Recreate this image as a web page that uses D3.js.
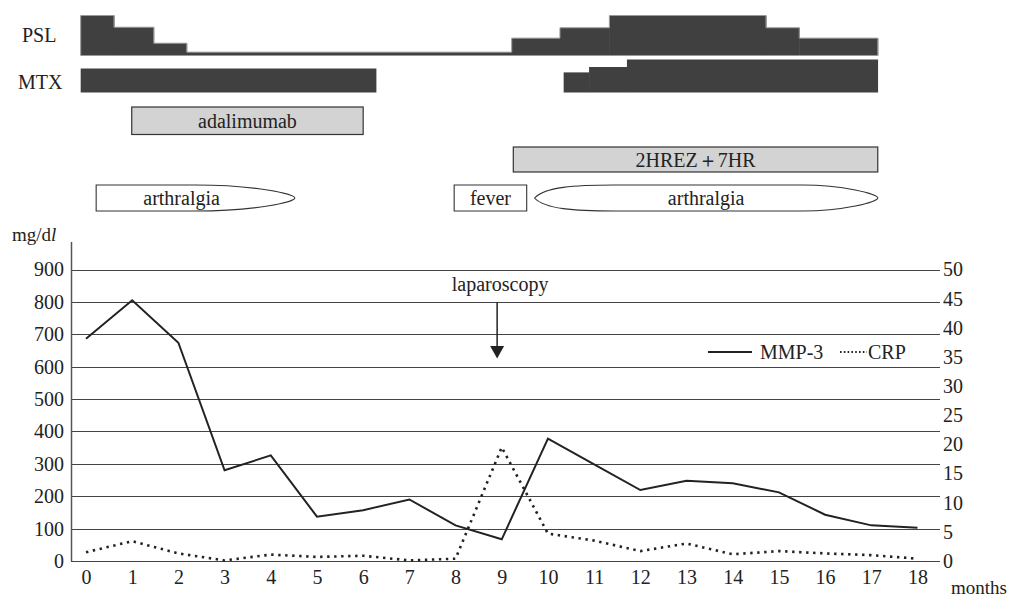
<!DOCTYPE html>
<html><head><meta charset="utf-8">
<script src="https://cdn.jsdelivr.net/npm/d3@7"></script>
<style>
body{margin:0;background:#fff;}
</style></head>
<body><svg id="c" width="1017" height="598"></svg>
<script>
// ---- data ----
const months = d3.range(0, 19);
const mmp3 = [686, 805, 674, 280, 326, 137, 157, 190, 110, 67, 378, 298, 219, 248, 240, 212, 143, 110, 103];
const crp = [1.5, 3.4, 1.3, 0.1, 1.1, 0.7, 0.9, 0.1, 0.4, 19.5, 4.7, 3.5, 1.7, 3.0, 1.15, 1.7, 1.3, 1.0, 0.4];
const leftTicks = [0, 100, 200, 300, 400, 500, 600, 700, 800, 900];
const rightTicks = [0, 5, 10, 15, 20, 25, 30, 35, 40, 45, 50];
// PSL steps: [start month, end month, dose]
const pslSteps = [[-0.115, 0.606, 30], [0.606, 1.466, 21.2], [1.466, 2.18, 9.2], [2.18, 9.216, 2.5],
  [9.216, 10.26, 13], [10.26, 11.33, 20.8], [11.33, 14.72, 30], [14.72, 15.44, 20.8], [15.44, 17.14, 13]];
// MTX steps: [start, end, dose]
const mtxSteps = [[-0.115, 6.28, 8], [10.34, 10.89, 6.7], [10.89, 11.71, 8.5], [11.71, 17.14, 11]];
const drugs = [{name: "adalimumab", s: 0.99, e: 6.0}, {name: "2HREZ\uFF0B7HR", s: 9.25, e: 17.14}];
const symptoms = [{name: "arthralgia", s: 0.22, e: 4.52, shape: "bulletR"},
  {name: "fever", s: 7.97, e: 9.54, shape: "rect"},
  {name: "arthralgia", s: 9.71, e: 17.14, shape: "ellipse"}];
const laparoscopyMonth = 8.9;

// ---- layout ----
const svg = d3.select("#c");
const x = d3.scaleLinear().domain([0, 18]).range([86, 917.5]);
const yL = d3.scaleLinear().domain([0, 900]).range([561, 269.5]);
const yR = d3.scaleLinear().domain([0, 50]).range([561, 269.5]);
const gridX0 = 71, gridX1 = 940;
const ink = "#222";

// gridlines
svg.append("g").selectAll("line").data(leftTicks).join("line")
  .attr("x1", gridX0).attr("x2", gridX1)
  .attr("y1", d => Math.round(yL(d)) + 0.5).attr("y2", d => Math.round(yL(d)) + 0.5)
  .attr("stroke", "#444").attr("stroke-width", 1.2);
// left axis line
svg.append("line").attr("x1", gridX0 + 0.5).attr("x2", gridX0 + 0.5)
  .attr("y1", yL(985)).attr("y2", yL(0)).attr("stroke", "#555").attr("stroke-width", 1.5);

// left axis labels
const axL = d3.axisLeft(yL).tickValues(leftTicks).tickSize(0).tickPadding(7);
const gL = svg.append("g").attr("transform", `translate(${gridX0},0)`).call(axL);
gL.select(".domain").remove();
// right axis labels
const axR = d3.axisRight(yR).tickValues(rightTicks).tickSize(0).tickPadding(3);
const gR = svg.append("g").attr("transform", `translate(${gridX1},0)`).call(axR);
gR.select(".domain").remove();
// bottom axis labels
const axB = d3.axisBottom(x).tickValues(months).tickSize(0).tickPadding(9).tickFormat(d3.format("d"));
const gB = svg.append("g").attr("transform", `translate(0,${yL(0)})`).call(axB);
gB.select(".domain").remove();
[gL, gR, gB].forEach(g => g.selectAll("text").style("font-size", "20px"));

// unit labels
const unit = svg.append("text").attr("x", 12).attr("y", 241).style("font-size", "19px");
unit.append("tspan").text("mg/d");
unit.append("tspan").style("font-style", "italic").text("l");
svg.append("text").attr("x", 951).attr("y", 594).style("font-size", "19px").text("months");

// lines
const lineL = d3.line().x((d, i) => x(months[i])).y(d => yL(d));
const lineR = d3.line().x((d, i) => x(months[i])).y(d => yR(d));
svg.append("path").attr("d", lineL(mmp3)).attr("fill", "none").attr("stroke", ink)
  .attr("stroke-width", 2).attr("stroke-linejoin", "miter");
svg.append("path").attr("d", lineR(crp)).attr("fill", "none").attr("stroke", ink)
  .attr("stroke-width", 2.6).attr("stroke-dasharray", "2.4,4.6").attr("stroke-linecap", "butt");

// legend
const lg = svg.append("g");
lg.append("line").attr("x1", 708).attr("x2", 752).attr("y1", 352).attr("y2", 352).attr("stroke", ink).attr("stroke-width", 2);
lg.append("text").attr("x", 760).attr("y", 359).style("font-size", "20px").text("MMP-3");
lg.append("line").attr("x1", 840).attr("x2", 867).attr("y1", 352).attr("y2", 352).attr("stroke", ink)
  .attr("stroke-width", 1.8).attr("stroke-dasharray", "1.6,2.2");
lg.append("text").attr("x", 868).attr("y", 359).style("font-size", "20px").text("CRP");

// laparoscopy annotation
const ax = x(laparoscopyMonth);
svg.append("text").attr("x", ax + 3).attr("y", 291).attr("text-anchor", "middle").style("font-size", "20px").text("laparoscopy");
svg.append("line").attr("x1", ax).attr("x2", ax).attr("y1", 302).attr("y2", 347).attr("stroke", ink).attr("stroke-width", 1.5);
svg.append("path").attr("d", `M${ax - 7},346 L${ax + 7},346 L${ax},358.5 Z`).attr("fill", ink);

// ---- top timeline ----
const pslH = d3.scaleLinear().domain([0, 30]).range([0, 40]);
const pslBase = 55.5;
svg.append("text").attr("x", 22).attr("y", 42).style("font-size", "20px").text("PSL");
svg.append("g").selectAll("rect").data(pslSteps).join("rect")
  .attr("x", d => x(d[0])).attr("width", d => x(d[1]) - x(d[0]) + 0.5)
  .attr("y", d => pslBase - pslH(d[2])).attr("height", d => pslH(d[2]))
  .attr("fill", "#404040");
const pslOutline = [];
pslSteps.forEach(d => { pslOutline.push([x(d[0]), pslBase - pslH(d[2])]); pslOutline.push([x(d[1]), pslBase - pslH(d[2])]); });
svg.append("path").attr("d", `M${x(pslSteps[0][0])},${pslBase}` + pslOutline.map(p => `L${p[0]},${p[1]}`).join("") + `L${x(pslSteps[pslSteps.length-1][1])},${pslBase}Z`)
  .attr("fill", "none").attr("stroke", "#999").attr("stroke-width", 1);

const mtxH = d3.scaleLinear().domain([0, 11]).range([0, 33]);
const mtxBase = 92.5;
svg.append("text").attr("x", 18).attr("y", 89).style("font-size", "20px").text("MTX");
svg.append("g").selectAll("rect").data(mtxSteps).join("rect")
  .attr("x", d => x(d[0])).attr("width", d => x(d[1]) - x(d[0]) + 0.3)
  .attr("y", d => mtxBase - mtxH(d[2])).attr("height", d => mtxH(d[2]))
  .attr("fill", "#404040");

// drug boxes
const drugY = [107, 147], drugH = [27.5, 25];
drugs.forEach((d, i) => {
  svg.append("rect").attr("x", x(d.s)).attr("y", drugY[i]).attr("width", x(d.e) - x(d.s)).attr("height", drugH[i])
    .attr("fill", "#d3d3d3").attr("stroke", "#333").attr("stroke-width", 1.2);
  svg.append("text").attr("x", (x(d.s) + x(d.e)) / 2).attr("y", drugY[i] + drugH[i] / 2 + 7)
    .attr("text-anchor", "middle").style("font-size", "20px").text(d.name);
});

// symptom shapes
const sy0 = 185, sy1 = 211, sym = (sy0 + sy1) / 2;
symptoms.forEach(d => {
  const a = x(d.s), b = x(d.e);
  let p;
  if (d.shape === "rect") {
    p = `M${a},${sy0}H${b}V${sy1}H${a}Z`;
  } else if (d.shape === "bulletR") {
    const m = a + (b - a) * 0.5;
    p = `M${a},${sy0}H${m}C${m + (b - m) * 0.6},${sy0} ${b},${sym - 4} ${b},${sym}C${b},${sym + 4} ${m + (b - m) * 0.6},${sy1} ${m},${sy1}H${a}Z`;
  } else {
    const l = a + 80, r = b - 75;
    p = `M${a},${sym}C${a + 10},${sy0 + 2} ${l - 40},${sy0} ${l},${sy0}H${r}C${r + 40},${sy0} ${b},${sym - 4} ${b},${sym}C${b},${sym + 4} ${r + 40},${sy1} ${r},${sy1}H${l}C${l - 40},${sy1} ${a + 10},${sy1 - 2} ${a},${sym}Z`;
  }
  svg.append("path").attr("d", p).attr("fill", "#fff").attr("stroke", "#333").attr("stroke-width", 1.1);
  const cx = d.shape === "bulletR" ? a + (b - a) * 0.43 : (a + b) / 2;
  svg.append("text").attr("x", cx).attr("y", sym + 7).attr("text-anchor", "middle").style("font-size", "20px").text(d.name);
});

// fonts for every text
svg.selectAll("text").style("font-family", "'Liberation Serif', 'Times New Roman', serif").attr("fill", ink);
</script></body></html>
